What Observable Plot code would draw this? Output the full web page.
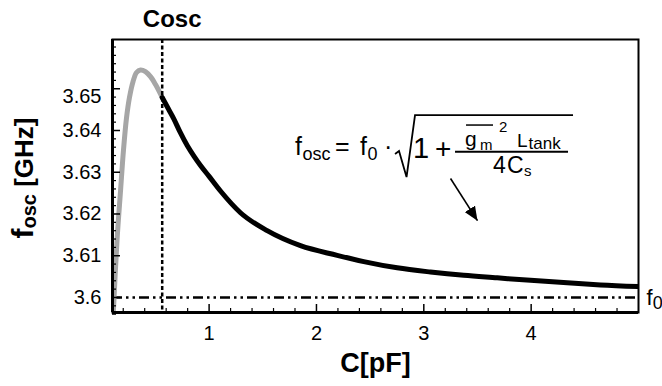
<!DOCTYPE html>
<html>
<head>
<meta charset="utf-8">
<script src="https://cdn.jsdelivr.net/npm/d3@7"></script>
<script src="https://cdn.jsdelivr.net/npm/@observablehq/plot@0.6"></script>
<style>
  html, body { margin: 0; padding: 0; background: #fff; }
  #chart svg { display: block; }
</style>
</head>
<body>
<div id="chart"></div>
<script>
// ---------- data ----------
const xDomain = [0.1, 5];
const yDomain = [3.5964, 3.6618];
const Cosc = 0.563;          // dashed vertical marker (pF)
const f0 = 3.6;              // reference frequency (GHz)

// grey (left of Cosc) branch
const grayC = [0.105, 0.142, 0.175, 0.202, 0.230, 0.258, 0.291, 0.324, 0.361, 0.407, 0.454, 0.501, 0.563];
const grayF = [3.5950, 3.6136, 3.6256, 3.6352, 3.6429, 3.6479, 3.6517, 3.6539, 3.6545, 3.6541, 3.6529, 3.6510, 3.6479];

// black (right of Cosc) branch
const blackC = [0.563, 0.620, 0.671, 0.730, 0.796, 0.860, 0.920, 1.000, 1.106, 1.292, 1.541, 1.851, 2.193, 2.441, 2.752, 3.062, 3.372, 3.684, 3.994, 4.336, 4.646, 5.000];
const blackF = [3.6479, 3.6452, 3.6428, 3.6396, 3.6364, 3.6338, 3.6316, 3.6290, 3.6255, 3.6203, 3.6160, 3.6124, 3.6101, 3.6086, 3.6071, 3.6061, 3.6053, 3.6047, 3.6041, 3.6035, 3.6030, 3.6026];

// ticks
const xTicks = [1, 2, 3, 4];
const xMinorTicks = [0.2, 0.4, 0.6, 0.8, 1.2, 1.4, 1.6, 1.8, 2.2, 2.4, 2.6, 2.8, 3.2, 3.4, 3.6, 3.8, 4.2, 4.4, 4.6, 4.8];
const yTicks = [3.6, 3.61, 3.62, 3.63, 3.64];
const yTopTick = [3.65];
const yMinorTicks = [3.596, 3.598, 3.602, 3.604, 3.606, 3.608, 3.612, 3.614, 3.616, 3.618,
  3.622, 3.624, 3.626, 3.628, 3.632, 3.634, 3.636, 3.638, 3.642, 3.644, 3.646, 3.648,
  3.652, 3.654, 3.656, 3.658, 3.660];

// annotation anchors (data coordinates)
const arrowFrom = [3.249, 3.6285];
const arrowTo = [3.500, 3.6184];
const formulaAt = [1.805, 3.634];

// ---------- build ----------
const grayData = grayC.map((c, i) => ({c, f: grayF[i]}));
const blackData = blackC.map((c, i) => ({c, f: blackF[i]}));
const FONT = "'Liberation Sans', Arial, Helvetica, sans-serif";

const plot = Plot.plot({
  width: 662,
  height: 386,
  marginLeft: 112,
  marginRight: 24,
  marginTop: 39,
  marginBottom: 74,
  style: {fontFamily: FONT, fontSize: "20px", color: "black", background: "white"},
  x: {domain: xDomain, label: null},
  y: {domain: yDomain, label: null},
  marks: [
    Plot.ruleY([f0], {stroke: "black", strokeWidth: 2.5, strokeDasharray: "10,4,2.5,4,2.5,4"}),
    Plot.line(grayData, {x: "c", y: "f", stroke: "#a6a6a6", strokeWidth: 5, curve: "catmull-rom", clip: true}),
    Plot.line(blackData, {x: "c", y: "f", stroke: "black", strokeWidth: 5, curve: "monotone-x", clip: true}),
    Plot.ruleX([Cosc], {stroke: "black", strokeWidth: 2.5, strokeDasharray: "4,2.5"}),
    Plot.link([0], {x1: () => arrowFrom[0], y1: () => arrowFrom[1], x2: () => arrowTo[0], y2: () => arrowTo[1],
      stroke: "black", strokeWidth: 1.6}),
    Plot.frame({stroke: "black", strokeWidth: 2}),
    Plot.ruleX([xDomain[0]], {stroke: "black", strokeWidth: 3}),
    Plot.ruleY([yDomain[0]], {stroke: "black", strokeWidth: 3}),
    // inward tick marks
    Plot.axisX(xTicks, {anchor: "bottom", tickSize: 8, dy: -8, strokeWidth: 1.5, tickFormat: () => "", label: null}),
    Plot.axisX(xMinorTicks, {anchor: "bottom", tickSize: 4, dy: -4, strokeWidth: 1.2, tickFormat: () => "", label: null}),
    Plot.axisY(yTicks.concat(yTopTick), {anchor: "left", tickSize: 8, dx: 8, strokeWidth: 1.5, tickFormat: () => "", label: null}),
    Plot.axisY(yMinorTicks, {anchor: "left", tickSize: 4, dx: 4, strokeWidth: 1.2, tickFormat: () => "", label: null}),
    // tick labels
    Plot.axisX(xTicks, {anchor: "bottom", tickSize: 0, tickPadding: 13, fontSize: 20, tickFormat: d => String(d), label: null}),
    Plot.axisY(yTicks, {anchor: "left", tickSize: 0, tickPadding: 11, fontSize: 20, tickFormat: d => String(d), label: null}),
    Plot.axisY(yTopTick, {anchor: "left", tickSize: 0, tickPadding: 11, dy: 8, fontSize: 20, tickFormat: d => String(d), label: null}),
    // titles
    Plot.text([Cosc], {x: d => d, frameAnchor: "top", dx: 10, dy: -12.5, lineAnchor: "bottom",
      text: () => "Cosc", fontSize: 24, fontWeight: "bold"}),
    Plot.text([0], {frameAnchor: "bottom", dy: 59, lineAnchor: "bottom", text: () => "C[pF]",
      fontSize: 27, fontWeight: "bold"}),
    Plot.text([0], {frameAnchor: "left", dx: -80, dy: 2, rotate: -90, lineAnchor: "bottom", textAnchor: "middle",
      text: () => "fosc [GHz]", fontSize: 26, fontWeight: "bold"}),
    Plot.text([f0], {x: () => xDomain[1], y: d => d, dx: 8, textAnchor: "start", lineAnchor: "middle",
      text: () => "f0", fontSize: 22})
  ]
});

document.getElementById("chart").appendChild(plot);
const svg = d3.select(plot);

function findText(str) {
  return svg.selectAll("text").filter(function() { return this.textContent === str; });
}
function rich(textSel, parts) {
  textSel.text(null);
  parts.forEach(p => {
    const t = textSel.append("tspan").text(p.t);
    if (p.size) t.attr("font-size", p.size).style("font-size", p.size + "px");
    if (p.dy) t.attr("dy", p.dy);
  });
}

// y label with subscript
rich(findText("fosc [GHz]"), [
  {t: "f", size: 30},
  {t: "osc", size: 20, dy: 3},
  {t: " [GHz]", size: 26, dy: -3}
]);
// f0 label
rich(findText("f0"), [
  {t: "f", size: 22},
  {t: "0", size: 18, dy: 4}
]);

// filled arrow head
const defs = svg.insert("defs", ":first-child");
defs.append("marker")
  .attr("id", "ahead").attr("viewBox", "0 0 14 12").attr("refX", 14).attr("refY", 6)
  .attr("markerWidth", 14).attr("markerHeight", 12).attr("markerUnits", "userSpaceOnUse")
  .attr("orient", "auto")
  .append("path").attr("d", "M0,0L14,6L0,12Z").attr("fill", "black");
svg.selectAll('g[aria-label="link"] path').attr("marker-end", "url(#ahead)");

// formula annotation
const sx = plot.scale("x"), sy = plot.scale("y");
const ax = sx.apply(formulaAt[0]), ay = sy.apply(formulaAt[1]);
const g = svg.append("g").attr("transform", `translate(${ax},${ay})`)
  .attr("font-family", FONT).attr("fill", "black").attr("text-anchor", "start")
  .style("text-anchor", "start");
const pieces = [
  {t: "f", x: 0, y: 0, s: 25},
  {t: "osc", x: 7.5, y: 5, s: 18},
  {t: "=", x: 40, y: 0, s: 25},
  {t: "f", x: 65, y: 0, s: 25},
  {t: "0", x: 72.5, y: 5, s: 18},
  {t: "\u00B7", x: 89, y: 0, s: 25},
  {t: "1", x: 118, y: 3, s: 29},
  {t: "+", x: 140, y: 3, s: 28},
  {t: "g", x: 170, y: -9, s: 21},
  {t: "m", x: 185, y: -5, s: 15},
  {t: "2", x: 204, y: -23, s: 15},
  {t: "L", x: 222, y: -8, s: 19},
  {t: "tank", x: 233.5, y: -6.5, s: 17},
  {t: "4", x: 198, y: 17.7, s: 23},
  {t: "C", x: 212, y: 17.7, s: 23},
  {t: "s", x: 229, y: 21, s: 15}
];
pieces.forEach(p => g.append("text").attr("x", p.x).attr("y", p.y)
  .attr("font-size", p.s).style("font-size", p.s + "px").text(p.t));
g.append("path").attr("d", "M100,-1L104,-4L111.5,22L120,-40H278")
  .attr("fill", "none").attr("stroke", "black").attr("stroke-width", 1.8).attr("stroke-linejoin", "miter");
g.append("path").attr("d", "M160,-3.3H273").attr("stroke", "black").attr("stroke-width", 1.8);
g.append("path").attr("d", "M171,-30H198").attr("stroke", "black").attr("stroke-width", 1.5);
</script>
</body>
</html>
